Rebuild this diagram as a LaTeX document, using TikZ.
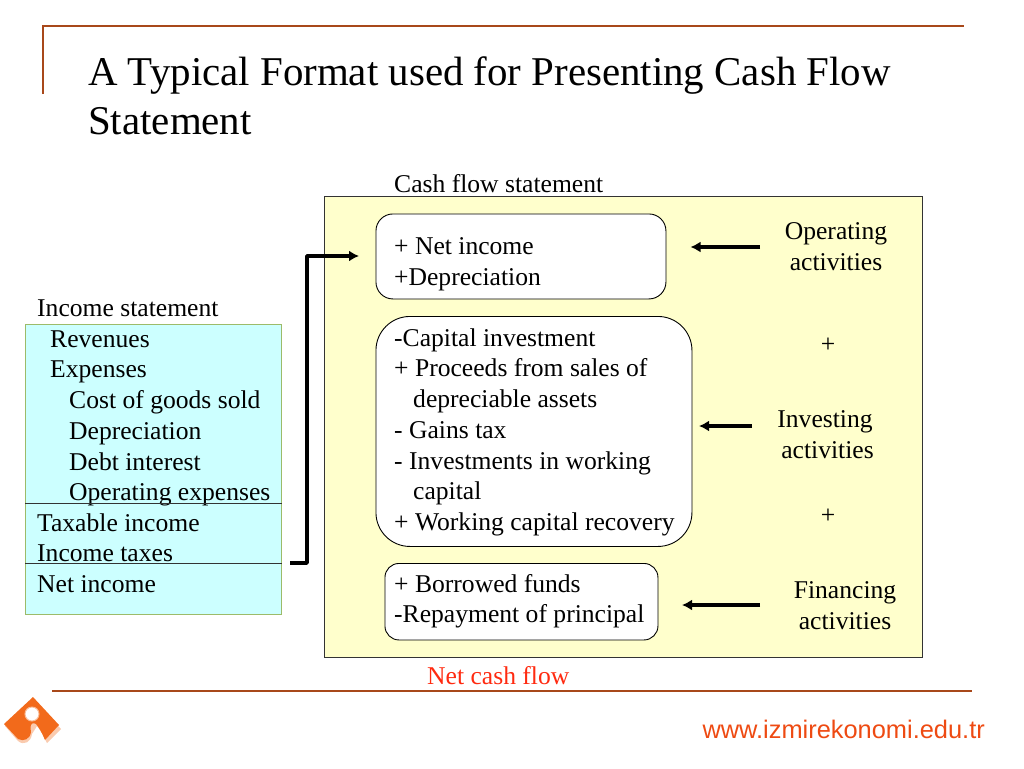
\documentclass[tikz,border=0pt]{standalone}
\usepackage{fontspec}
\usetikzlibrary{arrows.meta}
\setmainfont{Liberation Serif}
\newfontfamily\webfont{Liberation Sans}
\definecolor{rust}{HTML}{A8481A}
\definecolor{paleyellow}{HTML}{FFFFCC}
\definecolor{palecyan}{HTML}{CCFFFF}
\definecolor{boxgreen}{HTML}{9CBB6A}
\definecolor{logoorange}{HTML}{F26A1B}
\definecolor{webred}{HTML}{EE4A12}
\definecolor{netred}{HTML}{FF2A10}
\tikzset{
  bodytext/.style={font=\fontsize{25.6}{30.7}\selectfont, inner sep=0pt, align=left, text=black},
  lab/.style={bodytext, align=center, anchor=center},
  captext/.style={bodytext, anchor=base west, yshift=-0.7pt},
  flowbox/.style={draw=black, line width=0.9pt, fill=white, rounded corners=#1, inner sep=0pt},
  rustrule/.style={draw=rust, line width=2pt},
  flowarrow/.style={draw=black, line width=3.4pt, -{Latex[length=10pt,width=11pt]}},
  sepline/.style={draw=black!80, line width=0.8pt}
}
\begin{document}
\begin{tikzpicture}[x=1pt,y=-1pt]
\useasboundingbox (0,0) rectangle (1024,768);
% slide frame
\coordinate (fa) at (43,94); \coordinate (fb) at (43,26); \coordinate (fc) at (964,26);
\draw[rustrule] (fa) -- (fb) -- (fc);
\coordinate (ga) at (52,691); \coordinate (gb) at (972,691);
\draw[rustrule] (ga) -- (gb);
\node[anchor=base west,inner sep=0pt,font=\fontsize{40.9}{50}\selectfont,align=left] (title) at (88,85) {A Typical Format used for Presenting Cash Flow};
\node[anchor=base west,inner sep=0pt,font=\fontsize{40.9}{50}\selectfont] (title2) at (88,134) {Statement};
% panel
\node[draw=black!80,line width=0.8pt,fill=paleyellow,minimum width=597.5pt,minimum height=460.5pt,inner sep=0pt,anchor=north west] (panel) at (324,196) {};
\node[captext] (cfs) at (394,191.3) {Cash flow statement};
\node[captext,text=netred] (ncf) at (427,683.3) {Net cash flow};
% inner boxes
\node[flowbox=17pt,minimum width=290pt,minimum height=85pt,anchor=north west] (op) at (375.5,213.5) {};
\node[captext] (op1) at (394,253.5) {+ Net income};
\node[captext] (op2) at (394,284.5) {+Depreciation};
\node[flowbox=34pt,minimum width=316pt,minimum height=230pt,anchor=north west] (inv) at (375.5,316) {};
\node[captext] (i1) at (394,345.5) {-Capital investment};
\node[captext] (i2) at (394,376) {+ Proceeds from sales of};
\node[captext] (i3) at (413,407) {depreciable assets};
\node[captext] (i4) at (394,438) {- Gains tax};
\node[captext] (i5) at (394,468.5) {- Investments in working};
\node[captext] (i6) at (413,499) {capital};
\node[captext] (i7) at (394,530) {+ Working capital recovery};
\node[flowbox=14pt,minimum width=273pt,minimum height=76.5pt,anchor=north west] (fin) at (384.5,563) {};
\node[captext] (f1) at (394,591.5) {+ Borrowed funds};
\node[captext] (f2) at (394,622) {-Repayment of principal};
% right labels
\node[lab] (oa) at (836,246.5) {Operating\\activities};
\node[lab] (p1) at (828,345) {+};
\node[lab] (ia) at (825,434.5) {Investing\\\hspace*{5pt}activities};
\node[lab] (p2) at (828,516) {+};
\node[lab] (fa2) at (845,605.5) {Financing\\activities};
\coordinate (oae) at (760,247); \coordinate (oah) at (690.5,247);
\coordinate (iae) at (752,426); \coordinate (iah) at (699,426);
\coordinate (fae) at (760,605); \coordinate (fah) at (682,605);
\draw[flowarrow] (oae) -- (oah);
\draw[flowarrow] (iae) -- (iah);
\draw[flowarrow] (fae) -- (fah);
% income statement
\node[draw=boxgreen,line width=0.8pt,fill=palecyan,minimum width=256pt,minimum height=290.5pt,inner sep=0pt,anchor=north west] (inc) at (25,323.5) {};
\node[captext] (s0) at (37,315.5) {Income statement};
\node[captext] (s1) at (50,346.5) {Revenues};
\node[captext] (s2) at (50,377) {Expenses};
\node[captext] (s3) at (69,408) {Cost of goods sold};
\node[captext] (s4) at (69,438.5) {Depreciation};
\node[captext] (s5) at (69,469.5) {Debt interest};
\node[captext] (s6) at (69,500) {Operating expenses};
\node[captext] (s7) at (37,530.5) {Taxable income};
\node[captext] (s8) at (37,561) {Income taxes};
\node[captext] (s9) at (37,591.5) {Net income};
\coordinate (l1a) at (25,503); \coordinate (l1b) at (281.5,503);
\coordinate (l2a) at (25,563); \coordinate (l2b) at (281.5,563);
\draw[sepline] (l1a) -- (l1b);
\draw[sepline] (l2a) -- (l2b);
% elbow
\coordinate (ea) at (290,563); \coordinate (eb) at (307,563); \coordinate (ec) at (307,256); \coordinate (ed) at (359,256);
\draw[flowarrow,line join=round] (ea) -- (eb) -- (ec) -- (ed);
% logo
\fill[logoorange!35] (33,699) -- (61,729) -- (47,743) .. controls (43,735) and (41,731) .. (37,726) -- (32,734) .. controls (31,742) and (24,746) .. (18,741) -- (5,726) -- cycle;
\fill[logoorange] (33,697) -- (59,725) -- (45,740) .. controls (42,733) and (40,729) .. (36,724) .. controls (30,721) and (30,727) .. (31,732) .. controls (30,739) and (24,742) .. (18,739) -- (4,724) -- cycle;
\fill[white] (32,714) circle (7pt);
\draw[logoorange!45,line width=1pt] (32,714) circle (7pt);
% web
\node[anchor=base east,inner sep=0pt,text=webred,font=\webfont\fontsize{25.4}{28}\selectfont] (web) at (985,738) {www.izmirekonomi.edu.tr};
\end{tikzpicture}
\end{document}
